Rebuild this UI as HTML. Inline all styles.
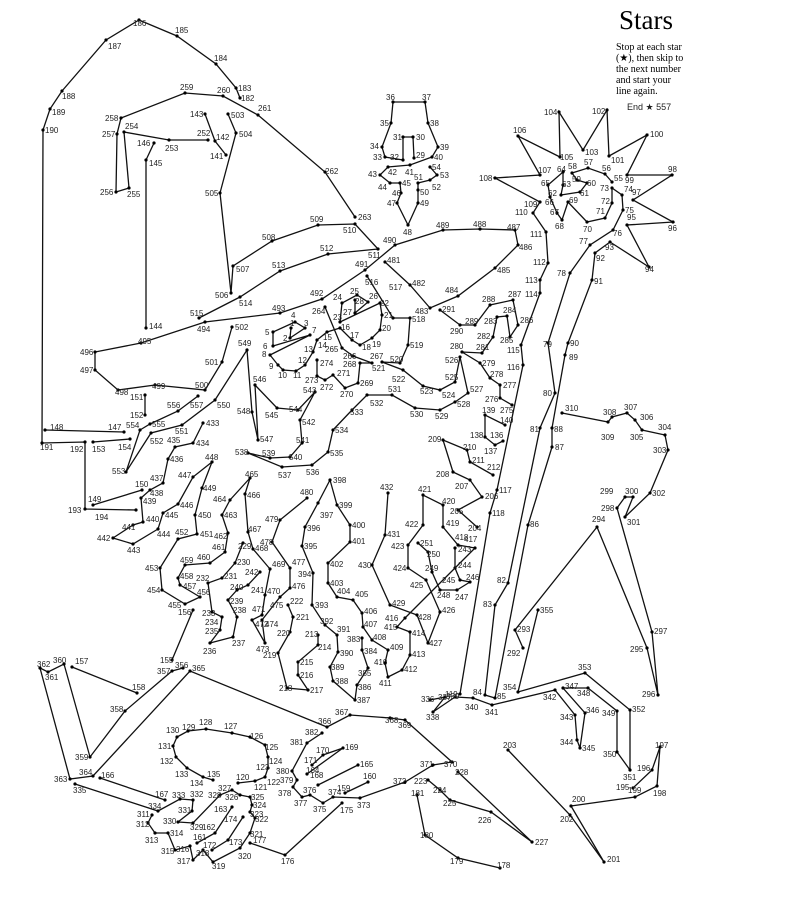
<!DOCTYPE html>
<html><head><meta charset="utf-8"><style>
html,body{margin:0;padding:0;background:#fff;}
svg{display:block;}
text{font-family:"Liberation Sans",sans-serif;font-size:8px;fill:#222;}
.t{font-family:"Liberation Serif",serif;fill:#000;}
polyline{fill:none;stroke:#111;stroke-width:1.3;marker-start:url(#d);marker-mid:url(#d);marker-end:url(#d);}
</style></head><body>
<svg width="790" height="920" viewBox="0 0 790 920" xmlns="http://www.w3.org/2000/svg">
<defs><marker id="d" markerWidth="4" markerHeight="4" refX="2" refY="2" markerUnits="userSpaceOnUse"><circle cx="2" cy="2" r="1.6" fill="#000"/></marker></defs>
<text class="t" x="619" y="29" style="font-size:27px">Stars</text>
<text class="t" x="616" y="50" style="font-size:10px">Stop at each star</text>
<text class="t" x="616" y="61" style="font-size:10px">(★), then skip to</text>
<text class="t" x="616" y="72" style="font-size:10px">the next number</text>
<text class="t" x="616" y="83" style="font-size:10px">and start your</text>
<text class="t" x="616" y="94" style="font-size:10px">line again.</text>
<text x="627" y="110" style="font-size:9px">End ★ 557</text>

<polyline points="291,328 290,338 305,328 295,322 273,332 273,346 310,335 270,355 278,365 283,370 296,371 305,365 313,352 317,340 327,332 340,328 352,340 360,345 372,338 380,330 382,315 380,303 340,322 342,303 357,295 368,302 355,313 355,300"/>
<polyline points="414,158 413,137 403,137 403,160 385,157 382,147 391,123 393,102 425,102 428,123 438,147 432,157 410,165 388,167 380,175 390,183 400,183 401,193 397,203 408,225 418,203 418,190 418,183 430,180 437,175 430,167"/>
<polyline points="612,182 605,174 588,168 572,173 577,180 587,183 580,192 561,195 563,185 563,172 548,185 550,197 557,213 562,220 568,202 587,222 605,218 612,203 612,188 622,195 623,210 613,230 590,245 570,273 548,343 555,393 540,428 508,583 495,605 485,695 495,698 528,525 552,447 552,428 565,355 568,343 592,280 595,253 610,242 649,267 627,225 673,222 633,200 672,175 627,175 647,135 609,156 607,110 583,150 559,112 560,157 518,136 540,175 495,178 540,202 533,213 546,232 548,263 540,280 540,293 521,345 523,365 497,490 490,513 460,694"/>
<polyline points="238,783 255,781 265,777 268,768 268,757 265,745 250,737 232,733 206,729 188,731 177,737 173,746 176,757 187,768 203,777 213,780"/>
<polyline points="503,441 495,445 485,437 485,415 505,425"/>
<polyline points="226,155 215,141 205,114"/>
<polyline points="146,328 146,160 154,143"/>
<polyline points="124,432 45,430"/>
<polyline points="93,505 142,490"/>
<polyline points="145,395 145,415"/>
<polyline points="93,442 130,439"/>
<polyline points="172,660 193,610"/>
<polyline points="72,667 137,693"/>
<polyline points="345,793 368,782"/>
<polyline points="197,843 215,833 232,807"/>
<polyline points="318,785 358,765"/>
<polyline points="100,778 165,800"/>
<polyline points="307,774 343,748 323,755 312,765"/>
<polyline points="212,850 228,840 243,817"/>
<polyline points="342,803 285,855 250,843"/>
<polyline points="500,868 458,858 425,835 417,795"/>
<polyline points="240,98 236,88 216,64 177,36 139,20 106,40 62,91 50,109 43,130 42,443 85,442 85,509 136,510"/>
<polyline points="633,788 652,770 660,747 657,786 635,797 571,806 604,862 570,815 508,750"/>
<polyline points="477,527 458,510 482,497 470,480 453,472 443,440 467,450 470,462 493,475"/>
<polyline points="318,635 318,645 298,662 298,675 308,690 287,688 278,653 290,632 293,617 288,605"/>
<polyline points="428,780 440,790 450,800 491,812 532,842 458,772"/>
<polyline points="243,543 235,563 222,578 208,583 212,612 222,617 220,630 210,643 233,637 237,617 228,600 237,590 248,585 260,572"/>
<polyline points="455,548 455,568 460,580 470,582 457,590 440,590 432,572 428,552 418,543"/>
<polyline points="208,140 169,140 124,132 129,188 116,192 117,134 121,118 185,93 223,96 258,115 325,172 355,217"/>
<polyline points="325,307 342,348 353,356 372,363 360,363 358,383 345,388 333,375 325,380 317,376 317,360"/>
<polyline points="512,405 500,398 500,385 490,378 480,363 462,352 482,353 493,337 497,317 507,316 510,337 518,325 513,300 490,305 475,325 460,325 440,310"/>
<polyline points="523,648 515,630 597,527 647,648 658,695 652,632 617,508 625,497 633,497 625,517 650,493 668,450 665,435 642,430 635,420 627,413 612,417 608,422 562,413"/>
<polyline points="152,815 148,823 155,833 168,833 175,850 190,846 193,860 203,850 213,862 240,848 250,833 255,818 250,812 252,805 250,797 240,795 232,790 220,795 193,823 178,822 192,811 193,800 180,799 158,811 75,784"/>
<polyline points="430,700 445,697 433,712 455,697 473,698 492,705 555,690 575,715 577,740 580,748 585,713 563,688 588,688 617,711 617,752 630,770 630,710 585,673 518,692 538,610"/>
<polyline points="183,668 172,671 125,711 90,757 64,664 48,672 40,668 70,779 93,776 190,671 327,727 350,715 390,718 405,720 452,762 433,765 405,782 360,798 333,797 323,803 310,795 302,797 293,787 297,780 292,771 307,743 322,733"/>
<polyline points="362,638 362,650 368,668 357,685 355,700 333,681 330,667 338,652 337,635 325,625 312,605 313,573 302,546 305,527 318,503 330,480 337,505 350,525 350,542 328,563 328,583 337,597 353,600 362,613 363,627 372,640 388,650 385,663 388,677 402,670 410,655 410,632 397,627 405,618 475,548 458,545 443,527 443,505 423,495 423,525 408,545 408,568 426,580 440,612 428,643 417,615 390,605 372,565 385,535 388,493"/>
<polyline points="203,423 193,443 175,447 168,459 163,483 150,490 141,498 143,522 133,525 113,538 133,544 158,529 163,513 178,504 193,477 212,462 202,488 195,515 197,534 178,539 160,568 162,590 185,604 200,597 180,585 178,578 185,565 210,563 225,552 228,533 222,515 230,500 250,478 245,494 248,532 253,549 270,569 265,595 262,615 252,620 265,643 262,620 280,597 290,588 290,568 272,542 280,520 307,498"/>
<polyline points="385,262 410,285 430,308 458,296 495,268 518,245 515,230 480,229 443,230 395,245 365,270 322,299 280,313 205,322 141,343 95,352 95,370 118,390 155,385 205,390 222,362 232,327"/>
<polyline points="228,114 236,133 220,193 231,293 233,266 272,241 318,225 355,224 378,249 328,254 280,271 240,297 199,318"/>
<polyline points="367,276 393,318 410,318 408,345 400,363 382,362 403,370 423,386 440,390 455,382 460,357 468,393 455,402 440,410 415,408 392,395 367,395 352,410 333,430 328,452 312,465 282,467 248,453 270,458 290,457 302,443 300,420 315,392 298,410 277,408 255,385 258,440 252,412 247,350 215,400 182,425 151,433 126,472 140,430 150,424 178,411 198,396"/>

<g>
<text x="133" y="26">186</text><text x="175" y="33">185</text><text x="214" y="61">184</text><text x="238" y="91">183</text><text x="241" y="101">182</text><text x="258" y="111">261</text><text x="108" y="49">187</text><text x="62" y="99">188</text><text x="52" y="115">189</text><text x="45" y="133">190</text><text x="40" y="450">191</text><text x="70" y="452">192</text><text x="68" y="513">193</text><text x="95" y="520">194</text>
<text x="180" y="90">259</text><text x="217" y="93">260</text><text x="105" y="121">258</text><text x="102" y="137">257</text><text x="100" y="195">256</text><text x="127" y="197">255</text><text x="125" y="129">254</text><text x="165" y="151">253</text><text x="197" y="136">252</text><text x="137" y="146">146</text><text x="149" y="166">145</text><text x="149" y="329">144</text><text x="190" y="117">143</text><text x="216" y="140">142</text><text x="210" y="159">141</text><text x="231" y="118">503</text><text x="239" y="137">504</text><text x="205" y="196">505</text><text x="215" y="298">506</text><text x="236" y="272">507</text><text x="262" y="240">508</text><text x="310" y="222">509</text><text x="343" y="233">510</text><text x="368" y="258">511</text><text x="320" y="251">512</text><text x="272" y="268">513</text><text x="239" y="306">514</text><text x="190" y="316">515</text><text x="325" y="174">262</text><text x="358" y="220">263</text>
<text x="197" y="332">494</text><text x="138" y="344">495</text><text x="80" y="355">496</text><text x="80" y="373">497</text><text x="115" y="395">498</text><text x="152" y="389">499</text><text x="195" y="388">500</text><text x="205" y="365">501</text><text x="235" y="330">502</text><text x="238" y="346">549</text><text x="217" y="408">550</text><text x="175" y="434">551</text><text x="150" y="444">552</text><text x="112" y="474">553</text><text x="126" y="428">554</text><text x="152" y="427">555</text><text x="167" y="408">556</text><text x="190" y="408">557</text><text x="130" y="400">151</text><text x="130" y="418">152</text><text x="92" y="452">153</text><text x="118" y="450">154</text><text x="108" y="430">147</text><text x="50" y="430">148</text><text x="88" y="502">149</text><text x="135" y="487">150</text>
<text x="206" y="426">433</text><text x="196" y="446">434</text><text x="167" y="443">435</text><text x="170" y="462">436</text><text x="150" y="481">437</text><text x="150" y="496">438</text><text x="143" y="504">439</text><text x="146" y="522">440</text><text x="122" y="530">441</text><text x="97" y="541">442</text><text x="127" y="553">443</text><text x="157" y="537">444</text><text x="165" y="518">445</text><text x="180" y="508">446</text><text x="178" y="478">447</text><text x="205" y="460">448</text><text x="203" y="491">449</text><text x="198" y="518">450</text><text x="200" y="537">451</text><text x="175" y="535">452</text><text x="145" y="571">453</text><text x="147" y="593">454</text><text x="168" y="608">455</text><text x="197" y="595">456</text><text x="183" y="589">457</text><text x="180" y="579">458</text><text x="180" y="563">459</text><text x="197" y="560">460</text><text x="212" y="550">461</text><text x="214" y="539">462</text><text x="224" y="518">463</text><text x="213" y="502">464</text><text x="245" y="477">465</text><text x="247" y="498">466</text><text x="248" y="532">467</text><text x="255" y="551">468</text><text x="272" y="567">469</text><text x="267" y="594">470</text><text x="252" y="612">471</text><text x="255" y="627">472</text><text x="256" y="652">473</text><text x="265" y="627">474</text><text x="270" y="608">475</text><text x="292" y="589">476</text><text x="292" y="565">477</text><text x="260" y="545">478</text><text x="265" y="522">479</text><text x="300" y="495">480</text>
<text x="238" y="549">229</text><text x="237" y="565">230</text><text x="224" y="579">231</text><text x="196" y="581">232</text><text x="202" y="616">233</text><text x="205" y="625">234</text><text x="205" y="634">235</text><text x="203" y="654">236</text><text x="232" y="646">237</text><text x="233" y="613">238</text><text x="230" y="604">239</text><text x="230" y="590">240</text><text x="251" y="593">241</text><text x="245" y="575">242</text><text x="235" y="455">538</text><text x="262" y="456">539</text><text x="278" y="478">537</text><text x="306" y="475">536</text><text x="330" y="456">535</text><text x="335" y="433">534</text><text x="350" y="415">533</text><text x="370" y="406">532</text><text x="388" y="392">531</text><text x="410" y="417">530</text><text x="435" y="419">529</text><text x="457" y="407">528</text><text x="470" y="392">527</text><text x="442" y="398">524</text><text x="420" y="394">523</text><text x="296" y="443">541</text><text x="289" y="460">540</text><text x="302" y="425">542</text><text x="303" y="393">543</text><text x="289" y="412">544</text><text x="265" y="418">545</text><text x="253" y="382">546</text><text x="260" y="442">547</text><text x="237" y="414">548</text>
<text x="265" y="335">5</text><text x="263" y="349">6</text><text x="312" y="333">7</text><text x="262" y="357">8</text><text x="269" y="369">9</text><text x="278" y="378">10</text><text x="293" y="378">11</text><text x="298" y="363">12</text><text x="304" y="352">13</text><text x="318" y="348">14</text><text x="323" y="340">15</text><text x="341" y="330">16</text><text x="350" y="338">17</text><text x="362" y="350">18</text><text x="372" y="347">19</text><text x="382" y="331">20</text><text x="384" y="318">21</text><text x="380" y="306">22</text><text x="333" y="320">23</text><text x="333" y="300">24</text><text x="350" y="294">25</text><text x="369" y="299">26</text><text x="343" y="315">27</text><text x="355" y="304">28</text><text x="290" y="326">1</text><text x="283" y="341">2</text><text x="304" y="326">3</text><text x="291" y="318">4</text>
<text x="312" y="314">264</text><text x="325" y="352">265</text><text x="343" y="359">266</text><text x="370" y="359">267</text><text x="343" y="367">268</text><text x="360" y="386">269</text><text x="340" y="397">270</text><text x="337" y="376">271</text><text x="320" y="390">272</text><text x="305" y="383">273</text><text x="320" y="366">274</text><text x="365" y="285">516</text><text x="389" y="290">517</text><text x="412" y="322">518</text><text x="410" y="348">519</text><text x="390" y="362">520</text><text x="372" y="371">521</text><text x="392" y="382">522</text><text x="445" y="380">525</text><text x="445" y="363">526</text><text x="387" y="263">481</text><text x="412" y="286">482</text><text x="415" y="314">483</text><text x="445" y="293">484</text><text x="497" y="273">485</text><text x="519" y="250">486</text><text x="507" y="230">487</text><text x="473" y="227">488</text><text x="436" y="228">489</text><text x="383" y="243">490</text><text x="355" y="267">491</text><text x="310" y="296">492</text><text x="272" y="311">493</text>
<text x="442" y="312">291</text><text x="450" y="334">290</text><text x="465" y="324">289</text><text x="482" y="302">288</text><text x="508" y="297">287</text><text x="520" y="323">286</text><text x="500" y="343">285</text><text x="503" y="313">284</text><text x="484" y="324">283</text><text x="477" y="339">282</text><text x="476" y="350">281</text><text x="450" y="349">280</text><text x="482" y="366">279</text><text x="490" y="377">278</text><text x="503" y="388">277</text><text x="485" y="402">276</text><text x="500" y="413">275</text><text x="482" y="413">139</text><text x="500" y="423">140</text><text x="470" y="438">138</text><text x="484" y="454">137</text><text x="490" y="438">136</text><text x="428" y="442">209</text><text x="463" y="450">210</text><text x="472" y="463">211</text><text x="487" y="470">212</text><text x="436" y="477">208</text><text x="455" y="489">207</text><text x="485" y="499">206</text><text x="450" y="514">205</text><text x="468" y="531">204</text><text x="499" y="493">117</text><text x="492" y="516">118</text><text x="445" y="697">119</text>
<text x="380" y="490">432</text><text x="418" y="492">421</text><text x="442" y="504">420</text><text x="405" y="527">422</text><text x="446" y="526">419</text><text x="455" y="540">418</text><text x="464" y="542">417</text><text x="391" y="549">423</text><text x="420" y="546">251</text><text x="427" y="557">250</text><text x="425" y="571">249</text><text x="437" y="598">248</text><text x="455" y="600">247</text><text x="466" y="580">246</text><text x="442" y="583">245</text><text x="458" y="568">244</text><text x="458" y="552">243</text><text x="393" y="571">424</text><text x="410" y="588">425</text><text x="442" y="613">426</text><text x="429" y="646">427</text><text x="418" y="620">428</text><text x="392" y="606">429</text><text x="358" y="568">430</text><text x="387" y="537">431</text>
<text x="333" y="483">398</text><text x="339" y="508">399</text><text x="352" y="528">400</text><text x="352" y="544">401</text><text x="330" y="567">402</text><text x="330" y="586">403</text><text x="337" y="594">404</text><text x="355" y="597">405</text><text x="364" y="614">406</text><text x="364" y="627">407</text><text x="373" y="640">408</text><text x="390" y="650">409</text><text x="374" y="665">410</text><text x="379" y="686">411</text><text x="404" y="672">412</text><text x="412" y="657">413</text><text x="412" y="636">414</text><text x="384" y="630">415</text><text x="385" y="621">416</text><text x="320" y="518">397</text><text x="307" y="531">396</text><text x="304" y="549">395</text><text x="298" y="577">394</text><text x="315" y="608">393</text><text x="320" y="624">392</text><text x="337" y="632">391</text><text x="340" y="656">390</text><text x="331" y="670">389</text><text x="335" y="684">388</text><text x="357" y="703">387</text><text x="358" y="690">386</text><text x="358" y="676">385</text><text x="364" y="654">384</text><text x="347" y="642">383</text>
<text x="305" y="637">213</text><text x="318" y="650">214</text><text x="300" y="665">215</text><text x="300" y="678">216</text><text x="310" y="693">217</text><text x="279" y="691">218</text><text x="263" y="658">219</text><text x="277" y="636">220</text><text x="296" y="620">221</text><text x="290" y="604">222</text><text x="160" y="663">155</text><text x="178" y="615">156</text><text x="75" y="664">157</text><text x="132" y="690">158</text><text x="337" y="791">159</text><text x="363" y="779">160</text><text x="175" y="668">356</text><text x="157" y="674">357</text><text x="110" y="712">358</text><text x="75" y="760">359</text><text x="53" y="663">360</text><text x="45" y="680">361</text><text x="37" y="667">362</text><text x="54" y="782">363</text><text x="79" y="775">364</text><text x="192" y="671">365</text><text x="318" y="724">366</text><text x="335" y="715">367</text><text x="385" y="723">368</text><text x="398" y="728">369</text><text x="444" y="767">370</text><text x="420" y="767">371</text><text x="393" y="784">372</text><text x="357" y="808">373</text><text x="328" y="795">374</text><text x="313" y="812">375</text><text x="303" y="793">376</text><text x="294" y="806">377</text><text x="278" y="796">378</text><text x="280" y="783">379</text><text x="276" y="774">380</text><text x="290" y="745">381</text><text x="305" y="735">382</text>
<text x="73" y="793">335</text><text x="148" y="809">334</text><text x="172" y="798">333</text><text x="190" y="797">332</text><text x="178" y="813">331</text><text x="163" y="824">330</text><text x="190" y="830">329</text><text x="208" y="798">328</text><text x="218" y="791">327</text><text x="225" y="800">326</text><text x="251" y="800">325</text><text x="253" y="808">324</text><text x="250" y="817">323</text><text x="255" y="822">322</text><text x="250" y="837">321</text><text x="238" y="859">320</text><text x="212" y="869">319</text><text x="196" y="856">318</text><text x="177" y="864">317</text><text x="176" y="852">316</text><text x="161" y="854">315</text><text x="170" y="836">314</text><text x="145" y="843">313</text><text x="136" y="827">312</text><text x="137" y="817">311</text><text x="193" y="840">161</text><text x="202" y="830">162</text><text x="214" y="812">163</text><text x="224" y="822">174</text><text x="229" y="845">173</text><text x="203" y="848">172</text><text x="101" y="778">166</text><text x="155" y="797">167</text>
<text x="236" y="780">120</text><text x="254" y="790">121</text><text x="267" y="785">122</text><text x="256" y="770">123</text><text x="269" y="764">124</text><text x="265" y="750">125</text><text x="250" y="739">126</text><text x="224" y="729">127</text><text x="199" y="725">128</text><text x="182" y="730">129</text><text x="166" y="733">130</text><text x="158" y="749">131</text><text x="160" y="764">132</text><text x="175" y="777">133</text><text x="190" y="786">134</text><text x="207" y="777">135</text><text x="306" y="773">164</text><text x="360" y="767">165</text><text x="310" y="778">168</text><text x="345" y="750">169</text><text x="316" y="753">170</text><text x="304" y="763">171</text><text x="340" y="813">175</text><text x="281" y="864">176</text><text x="253" y="843">177</text><text x="497" y="868">178</text><text x="450" y="864">179</text><text x="420" y="838">180</text><text x="411" y="796">181</text><text x="414" y="784">223</text><text x="433" y="793">224</text><text x="443" y="806">225</text><text x="478" y="823">226</text><text x="535" y="845">227</text><text x="455" y="775">228</text><text x="421" y="702">336</text><text x="438" y="700">337</text><text x="426" y="720">338</text><text x="446" y="699">339</text><text x="465" y="710">340</text><text x="485" y="715">341</text>
<text x="386" y="100">36</text><text x="422" y="100">37</text><text x="430" y="126">38</text><text x="380" y="126">35</text><text x="370" y="149">34</text><text x="373" y="160">33</text><text x="390" y="160">32</text><text x="393" y="140">31</text><text x="416" y="140">30</text><text x="416" y="158">29</text><text x="440" y="150">39</text><text x="434" y="160">40</text><text x="405" y="175">41</text><text x="388" y="175">42</text><text x="368" y="177">43</text><text x="378" y="190">44</text><text x="402" y="186">45</text><text x="392" y="196">46</text><text x="387" y="206">47</text><text x="403" y="235">48</text><text x="420" y="206">49</text><text x="420" y="195">50</text><text x="414" y="180">51</text><text x="432" y="190">52</text><text x="440" y="178">53</text><text x="432" y="170">54</text>
<text x="614" y="181">55</text><text x="602" y="171">56</text><text x="584" y="165">57</text><text x="568" y="169">58</text><text x="572" y="182">59</text><text x="587" y="186">60</text><text x="580" y="196">61</text><text x="548" y="196">62</text><text x="562" y="187">63</text><text x="557" y="172">64</text><text x="541" y="186">65</text><text x="545" y="205">66</text><text x="550" y="215">67</text><text x="555" y="229">68</text><text x="569" y="203">69</text><text x="583" y="232">70</text><text x="596" y="214">71</text><text x="601" y="204">72</text><text x="600" y="191">73</text><text x="624" y="192">74</text><text x="625" y="213">75</text><text x="613" y="236">76</text><text x="579" y="244">77</text><text x="557" y="276">78</text><text x="543" y="347">79</text><text x="543" y="396">80</text><text x="530" y="432">81</text><text x="497" y="583">82</text><text x="483" y="607">83</text><text x="473" y="695">84</text><text x="497" y="699">85</text><text x="530" y="527">86</text><text x="555" y="450">87</text><text x="554" y="432">88</text><text x="569" y="360">89</text><text x="570" y="346">90</text><text x="594" y="284">91</text><text x="596" y="261">92</text><text x="605" y="250">93</text><text x="645" y="272">94</text><text x="627" y="220">95</text><text x="668" y="231">96</text><text x="632" y="195">97</text><text x="668" y="172">98</text><text x="625" y="183">99</text><text x="650" y="137">100</text><text x="611" y="163">101</text><text x="592" y="114">102</text><text x="585" y="155">103</text><text x="544" y="115">104</text><text x="560" y="160">105</text><text x="513" y="133">106</text><text x="538" y="173">107</text><text x="479" y="181">108</text><text x="524" y="207">109</text><text x="515" y="215">110</text><text x="530" y="237">111</text><text x="533" y="265">112</text><text x="525" y="283">113</text><text x="525" y="297">114</text><text x="507" y="353">115</text><text x="507" y="370">116</text>
<text x="565" y="411">310</text><text x="603" y="415">308</text><text x="624" y="410">307</text><text x="640" y="420">306</text><text x="630" y="440">305</text><text x="658" y="430">304</text><text x="653" y="453">303</text><text x="652" y="496">302</text><text x="627" y="525">301</text><text x="625" y="494">300</text><text x="600" y="494">299</text><text x="601" y="511">298</text><text x="592" y="522">294</text><text x="601" y="440">309</text><text x="630" y="652">295</text><text x="642" y="697">296</text><text x="654" y="634">297</text><text x="540" y="613">355</text><text x="517" y="632">293</text><text x="507" y="656">292</text><text x="503" y="690">354</text><text x="578" y="670">353</text><text x="565" y="689">347</text><text x="577" y="696">348</text><text x="543" y="700">342</text><text x="560" y="720">343</text><text x="586" y="713">346</text><text x="560" y="745">344</text><text x="582" y="751">345</text><text x="602" y="716">349</text><text x="632" y="712">352</text><text x="603" y="757">350</text><text x="623" y="780">351</text><text x="503" y="748">203</text><text x="572" y="802">200</text><text x="560" y="822">202</text><text x="607" y="862">201</text><text x="628" y="793">199</text><text x="653" y="796">198</text><text x="616" y="790">195</text><text x="637" y="771">196</text><text x="655" y="748">197</text>
</g>
</svg>
</body></html>
